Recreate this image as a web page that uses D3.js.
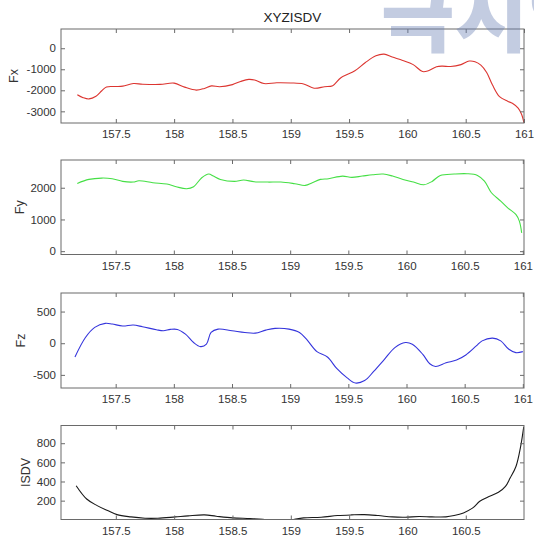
<!DOCTYPE html>
<html><head><meta charset="utf-8">
<script src="https://cdn.jsdelivr.net/npm/d3@7"></script>
<style>html,body{margin:0;padding:0;background:#fff;overflow:hidden}</style>
</head><body>
<svg id="chart" width="534" height="542"></svg>
<script>
// ---------------- data ----------------
const titleText = "XYZISDV";
const watermarkText = "극지연";
const xTicks = [157.5, 158, 158.5, 159, 159.5, 160, 160.5, 161];

const fxLabel = "Fx";
const fxTicks = [0, -1000, -2000, -3000];
const fxT = [157.17,157.22,157.27,157.33,157.38,157.42,157.5,157.56,157.65,157.73,157.88,158.0,158.09,158.19,158.26,158.32,158.39,158.5,158.57,158.64,158.69,158.77,158.88,159.0,159.11,159.2,159.29,159.36,159.43,159.55,159.64,159.73,159.8,159.87,159.96,160.05,160.13,160.18,160.25,160.3,160.37,160.46,160.53,160.58,160.63,160.68,160.73,160.79,160.86,160.9,160.95,160.98,161.0];
const fxV = [-2210,-2350,-2410,-2280,-2020,-1840,-1820,-1800,-1680,-1710,-1720,-1660,-1850,-1990,-1910,-1790,-1830,-1730,-1580,-1480,-1510,-1680,-1640,-1650,-1700,-1900,-1830,-1780,-1400,-1070,-680,-360,-280,-420,-580,-780,-1110,-1070,-880,-850,-870,-780,-610,-640,-800,-1150,-1750,-2300,-2520,-2620,-2850,-3150,-3550];

const fyLabel = "Fy";
const fyTicks = [0, 1000, 2000];
const fyT = [157.17,157.27,157.38,157.47,157.56,157.65,157.7,157.82,157.94,158.02,158.11,158.17,158.24,158.3,158.34,158.4,158.52,158.6,158.69,158.81,158.92,159.04,159.13,159.19,159.26,159.33,159.45,159.53,159.62,159.71,159.8,159.88,159.97,160.06,160.15,160.22,160.29,160.41,160.52,160.61,160.67,160.73,160.81,160.87,160.94,160.97,160.99];
const fyV = [2137,2263,2305,2284,2200,2179,2221,2158,2116,2032,1968,2032,2316,2432,2368,2263,2200,2242,2189,2179,2179,2126,2074,2158,2263,2284,2368,2326,2368,2410,2432,2368,2263,2179,2095,2200,2389,2432,2442,2389,2210,1842,1579,1368,1158,947,579];

const fzLabel = "Fz";
const fzTicks = [500, 0, -500];
const fzT = [157.15,157.24,157.32,157.41,157.47,157.56,157.65,157.73,157.85,157.91,157.97,158.03,158.1,158.17,158.23,158.28,158.32,158.38,158.5,158.61,158.7,158.79,158.87,158.99,159.08,159.14,159.23,159.32,159.4,159.49,159.56,159.64,159.72,159.81,159.9,159.99,160.05,160.14,160.2,160.25,160.34,160.43,160.51,160.6,160.65,160.74,160.81,160.88,160.94,161.0];
const fzV = [-218,90,250,314,303,271,287,261,213,197,218,218,144,11,-53,-16,170,223,197,170,160,207,234,223,170,64,-133,-218,-399,-548,-628,-590,-441,-255,-69,11,-16,-176,-324,-367,-309,-266,-186,-43,37,80,37,-96,-149,-133];

const isdvLabel = "ISDV";
const isdvTicks = [200, 400, 600, 800];
const isdvT = [157.16,157.25,157.34,157.43,157.51,157.63,157.75,157.86,158.01,158.12,158.26,158.36,158.5,158.65,158.76,158.84,158.92,159.0,159.04,159.11,159.26,159.4,159.52,159.63,159.75,159.87,159.98,160.1,160.21,160.33,160.4,160.48,160.56,160.62,160.69,160.78,160.84,160.88,160.93,160.97,160.997];
const isdvV = [356,217,148,96,54,30,16,16,30,41,51,37,20,13,5,-4,-6,-2,8,20,27,44,51,54,44,30,27,34,30,30,44,72,124,193,238,287,349,436,557,765,973];

// ---------------- layout ----------------
const svg = d3.select("#chart");
const FONT = "'Liberation Sans', Arial, Helvetica, sans-serif";
const LEFT = 61, RIGHT = 524;
const panels = [
  {label: fxLabel, t: fxT, v: fxV, ticks: fxTicks, ylim: [-3555, 915], xmax: 161.0, top: 29, bottom: 123, color: "#dc3530", lx: 14},
  {label: fyLabel, t: fyT, v: fyV, ticks: fyTicks, ylim: [-105, 2875], xmax: 161.01, top: 160, bottom: 254.5, color: "#45df45", lx: 20},
  {label: fzLabel, t: fzT, v: fzV, ticks: fzTicks, ylim: [-707, 793], xmax: 161.01, top: 293, bottom: 388, color: "#3434dc", lx: 21},
  {label: isdvLabel, t: isdvT, v: isdvV, ticks: isdvTicks, ylim: [3, 985], xmax: 160.999, top: 425.5, bottom: 519.5, color: "#1a1a1a", lx: 26}
];
const XMIN = 157.03;

panels.forEach((p, i) => {
  const x = d3.scaleLinear().domain([XMIN, p.xmax]).range([LEFT, RIGHT]);
  const y = d3.scaleLinear().domain(p.ylim).range([p.bottom, p.top]);
  const g = svg.append("g");
  const xt = xTicks.filter(d => d >= XMIN && d <= p.xmax);
  const yt = p.ticks.filter(d => d >= p.ylim[0] && d <= p.ylim[1]);

  const clipId = "clip" + i;
  svg.append("clipPath").attr("id", clipId).append("rect")
    .attr("x", LEFT).attr("y", p.top).attr("width", RIGHT - LEFT).attr("height", p.bottom - p.top);

  const data = p.t.map((t, k) => [t, p.v[k]]);
  g.append("path").datum(data)
    .attr("clip-path", `url(#${clipId})`)
    .attr("fill", "none").attr("stroke", p.color).attr("stroke-width", 1.1)
    .attr("d", d3.line().x(d => x(d[0])).y(d => y(d[1])).curve(d3.curveCatmullRom.alpha(0.5)));

  const style = sel => {
    sel.select(".domain").remove();
    sel.selectAll("line").attr("stroke", "#6a6a6a").attr("stroke-width", 1);
    sel.selectAll("text").attr("fill", "#333").style("font-family", FONT).style("font-size", "11.5px");
  };
  g.append("g").attr("transform", `translate(0,${p.bottom})`)
    .call(d3.axisBottom(x).tickValues(xt).tickSize(-4).tickPadding(7).tickFormat(d => String(d))).call(style);
  g.append("g").attr("transform", `translate(0,${p.top})`)
    .call(d3.axisTop(x).tickValues(xt).tickSize(-4).tickFormat("")).call(style);
  g.append("g").attr("transform", `translate(${LEFT},0)`)
    .call(d3.axisLeft(y).tickValues(yt).tickSize(-4).tickPadding(5).tickFormat(d => String(d))).call(style);
  g.append("g").attr("transform", `translate(${RIGHT},0)`)
    .call(d3.axisRight(y).tickValues(yt).tickSize(-4).tickFormat("")).call(style);

  g.append("rect").attr("x", LEFT).attr("y", p.top).attr("width", RIGHT - LEFT).attr("height", p.bottom - p.top)
    .attr("fill", "none").attr("stroke", "#6a6a6a").attr("stroke-width", 1);

  g.append("text").text(p.label)
    .attr("transform", `translate(${p.lx},${(p.top + p.bottom) / 2}) rotate(-90)`)
    .attr("text-anchor", "middle").attr("dominant-baseline", "central")
    .attr("fill", "#333").style("font-family", FONT).style("font-size", "12.5px");

  if (i === 0) {
    svg.append("text").text(titleText)
      .attr("x", (LEFT + RIGHT) / 2).attr("y", 22).attr("text-anchor", "middle")
      .attr("fill", "#222").style("font-family", FONT).style("font-size", "13.5px");
  }
});

// watermark (partly outside the picture, as in the reference)
svg.append("text").text(watermarkText)
  .attr("x", 381).attr("y", 45)
  .attr("fill", "#6a7fb5").attr("fill-opacity", 0.4)
  .style("font-family", "'Noto Sans CJK KR', sans-serif").style("font-weight", 900).style("font-size", "80px");
</script>
</body></html>
